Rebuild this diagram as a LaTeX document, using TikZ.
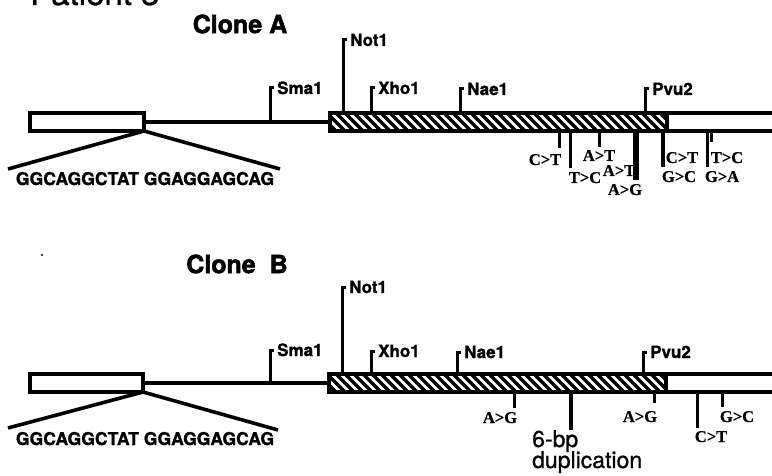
\documentclass[tikz,border=0pt]{standalone}
\usepackage{fontspec}
\setmainfont{TeX Gyre Heros}
\newfontfamily\heavyfont[FakeBold=2]{TeX Gyre Heros Bold}
\newfontfamily\sitefont[FakeBold=1.2]{TeX Gyre Heros Bold}
\newfontfamily\medfont[FakeBold=0.8]{TeX Gyre Heros}
\newfontfamily\mutfont[FakeBold=0.6]{Liberation Serif Bold}
\newcommand\rsite[5]{%
  \coordinate (#1b) at (#2,#4);
  \coordinate (#1t) at (#2,#3);
  \coordinate (#1h) at ({#2+4},#3);
  \draw[sitetick] (#1b) -- (#1t) -- (#1h);
  \node[site] (#1) at ({#2+7},{#3+6}) {#5};}
\newcommand\mtick[5]{%
  \coordinate (#1a) at (#2,#4);
  \coordinate (#1z) at (#2,#3);
  \draw[line width=#5] (#1a) -- (#1z);}
\begin{document}
\begin{tikzpicture}[x=1pt,y=-1pt,
  bar/.style={line width=3.6pt},
  sitetick/.style={line width=3pt, line join=miter},
  site/.style={font=\sitefont\fontsize{17}{17}\selectfont, inner sep=0pt, anchor=base west},
  mut/.style={font=\mutfont\fontsize{16.5}{16.5}\selectfont, inner sep=0pt, anchor=base},
  ttl/.style={font=\heavyfont\fontsize{25}{25}\selectfont, inner sep=0pt},
  seq/.style={font=\sitefont\fontsize{17.6}{18}\selectfont, inner sep=0pt, anchor=base},
  dup/.style={font=\medfont\fontsize{23}{23}\selectfont, inner sep=0pt, anchor=base west},
  hatchline/.style={line width=3.4pt}]
\useasboundingbox (0,0) rectangle (772,476);
\clip (0,0) rectangle (772,476);

% header (cut off at top, as in the reference)
\node[font=\medfont\fontsize{33}{33}\selectfont, inner sep=0pt, anchor=base west] (pat) at (30,5) {Patient 3};

% ================= Clone A =================
\node[ttl] (clA) at (240,24) {Clone A};
\coordinate (A1) at (30,113); \coordinate (A2) at (144,131);
\draw[bar] (A1) rectangle (A2);
\coordinate (Al0) at (144,122); \coordinate (Al1) at (330,122);
\draw[bar] (Al0) -- (Al1);
\begin{scope}
  \clip (330,113) rectangle (667,131);
  \foreach \x in {300,309,...,680} \draw[hatchline] (\x,113) -- (\x+18,131);
\end{scope}
\coordinate (Ah1) at (330,113); \coordinate (Ah2) at (667,131);
\draw[bar] (Ah1) rectangle (Ah2);
\coordinate (Ar1) at (667,113); \coordinate (Ar2) at (780,113);
\coordinate (Ar3) at (667,131); \coordinate (Ar4) at (780,131);
\draw[bar] (Ar1) -- (Ar2); \draw[bar] (Ar3) -- (Ar4);
% sites
\rsite{smaA}{270}{88}{122}{Sma1}
\rsite{notA}{343}{40}{113}{Not1}
\rsite{xhoA}{371}{88}{113}{Xho1}
\rsite{naeA}{460}{89}{113}{Nae1}
\rsite{pvuA}{645}{89}{113}{Pvu2}
% sequence
\coordinate (Asq) at (144,131);
\coordinate (AsqL) at (8,169); \coordinate (AsqR) at (280,169);
\draw[bar] (AsqL) -- (Asq) -- (AsqR);
\node[seq] (seqA) at (145,185) {GGCAGGCTAT GGAGGAGCAG};
% mutations
\mtick{mA1}{559}{148}{131}{3pt}
\node[mut] (lA1) at (545,165) {C>T};
\mtick{mA2}{570}{168}{131}{3pt}
\node[mut] (lA2) at (585,183) {T>C};
\mtick{mA3}{599}{147}{131}{3pt}
\node[mut] (lA3) at (599,161) {A>T};
\mtick{mA4}{636}{180}{131}{5.5pt}
\node[mut] (lA4) at (619,176) {A>T};
\node[mut] (lA5) at (625,195) {A>G};
\mtick{mA6}{663}{167}{131}{4.5pt}
\node[mut] (lA6) at (682,163) {C>T};
\node[mut] (lA7) at (679,182) {G>C};
\mtick{mA8}{707}{167}{131}{3pt}
\mtick{mA9}{711}{142}{131}{3pt}
\node[mut] (lA8) at (727,163) {T>C};
\node[mut] (lA9) at (722,182) {G>A};

% ================= Clone B =================
\fill (42,255) circle (1.2pt);
\node[ttl] (clB) at (237,264) {Clone\ \ B};
\coordinate (B1) at (30,374); \coordinate (B2) at (143,392);
\draw[bar] (B1) rectangle (B2);
\coordinate (Bl0) at (143,383); \coordinate (Bl1) at (329,383);
\draw[bar] (Bl0) -- (Bl1);
\begin{scope}
  \clip (329,374) rectangle (666,392);
  \foreach \x in {300,309,...,680} \draw[hatchline] (\x,374) -- (\x+18,392);
\end{scope}
\coordinate (Bh1) at (329,374); \coordinate (Bh2) at (666,392);
\draw[bar] (Bh1) rectangle (Bh2);
\coordinate (Br1) at (666,374); \coordinate (Br2) at (780,374);
\coordinate (Br3) at (666,392); \coordinate (Br4) at (780,392);
\draw[bar] (Br1) -- (Br2); \draw[bar] (Br3) -- (Br4);
% sites
\rsite{smaB}{270}{350}{383}{Sma1}
\rsite{notB}{342}{287}{374}{Not1}
\rsite{xhoB}{371}{351}{374}{Xho1}
\rsite{naeB}{457}{352}{374}{Nae1}
\rsite{pvuB}{643}{352}{374}{Pvu2}
% sequence
\coordinate (Bsq) at (143,392);
\coordinate (BsqL) at (8,428); \coordinate (BsqR) at (278,430);
\draw[bar] (BsqL) -- (Bsq) -- (BsqR);
\node[seq] (seqB) at (145,445) {GGCAGGCTAT GGAGGAGCAG};
% mutations
\mtick{mB1}{514}{408}{392}{3pt}
\node[mut] (lB1) at (500,423) {A>G};
\mtick{mB2}{571}{430}{392}{4.5pt}
\node[dup] (lB2) at (532,447) {6-bp};
\node[dup] (lB3) at (532,468) {duplication};
\mtick{mB4}{654}{403}{392}{3pt}
\node[mut] (lB4) at (640,422) {A>G};
\mtick{mB5}{697}{428}{392}{3pt}
\node[mut] (lB5) at (711,442) {C>T};
\mtick{mB6}{722}{407}{392}{3pt}
\node[mut] (lB6) at (737,422) {G>C};
\end{tikzpicture}
\end{document}
